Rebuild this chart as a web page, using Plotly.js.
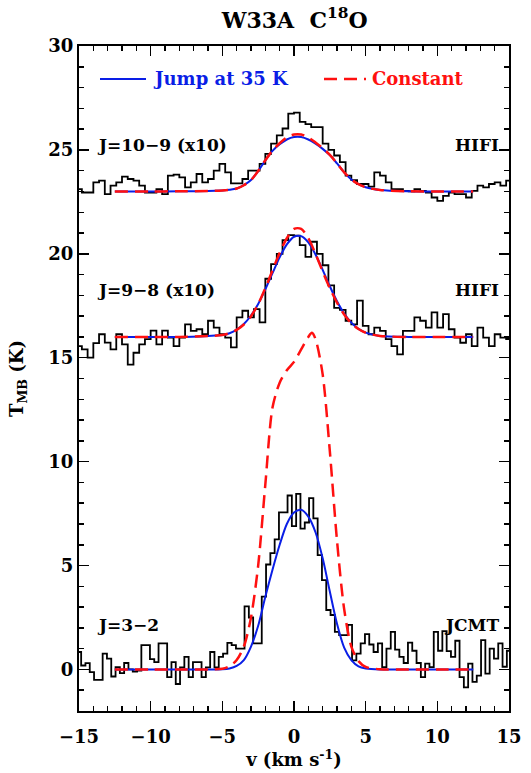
<!DOCTYPE html>
<html>
<head>
<meta charset="utf-8">
<script src="https://cdn.plot.ly/plotly-3.0.1.min.js"></script>
<style>html,body{margin:0;padding:0;background:#fff;}#chart{width:531px;height:773px;}</style>
</head>
<body>
<div id="chart"></div>
<script>
// ---- Observed spectra (histograms) ----
// JCMT C18O J=3-2, channel start and width (km/s)
var jcmtStart = -15, jcmtWidth = 0.3;
var jcmtT = [0.84,0.19,0.3,-0.13,-0.5,-0.5,0.76,0.52,-0.34,0.11,
 -0.18,0.31,0.0,-0.1,-0.05,1.17,1.17,0.5,0.35,1.25,
 1.25,-0.37,0.35,-0.7,0.1,0.6,-0.37,0.35,0.35,-0.37,
 0.1,0.84,0.1,0.6,0.76,1.28,1.17,1.0,1.0,3.03,
 2.5,1.25,1.25,3.5,5.05,5.6,6.26,7.56,7.56,8.37,
 6.9,8.45,6.78,7.07,8.24,7.27,5.5,4.3,2.86,2.62,
 1.81,1.65,1.65,2.14,0.44,0.76,1.25,1.7,1.2,0.84,
 1.25,0.11,1.0,1.81,0.95,0.6,0.31,1.29,0.9,0.31,
 -0.37,0.28,0.11,1.81,0.9,1.84,0.88,0.6,1.38,-0.37,
 -0.86,0.28,-0.6,-0.3,1.41,-0.2,1.0,0.52,1.25,0.13,
 0.9];

// HIFI spectra (already x10), channel start and width (km/s)
var hifiStart = -15, hifiWidth = 0.4;
var hifi98T = [-0.44,-0.6,-1.0,-0.3,0.13,-0.27,-0.6,0.13,-0.36,-1.33,
 -0.76,-0.36,-0.11,0.3,-0.36,0.3,-0.03,-0.44,-0.03,0.6,
 0.29,0.37,0.13,0.78,0.45,0.13,-0.03,-0.5,0.94,1.26,
 0.94,1.34,0.7,2.8,3.5,4.0,4.66,4.9,4.88,4.42,
 3.85,4.58,4.0,3.45,2.48,1.4,1.3,0.78,0.6,1.75,
 0.53,0.13,0.45,0.29,-0.11,-0.44,-0.84,0.29,0.29,0.94,
 0.78,0.45,1.18,0.45,1.1,0.37,-0.03,-0.28,0.13,-0.44,
 0.45,-0.03,-0.44,0.13,-0.03,-0.1];
var hifi109T = [0.11,-0.05,-0.05,0.44,0.52,-0.13,0.28,0.44,0.71,0.6,
 0.52,0.28,-0.05,-0.05,0.11,-0.13,0.76,0.81,0.68,0.2,
 0.44,0.84,0.44,0.6,1.0,1.33,0.92,0.39,0.39,0.6,
 1.0,1.0,1.33,1.81,2.3,2.7,3.03,3.75,3.79,3.35,
 3.24,3.1,3.1,2.3,2.0,1.73,1.41,0.76,0.55,0.36,
 0.36,0.23,0.92,0.76,0.44,0.11,0.11,0.03,0.0,0.11,
 0.03,-0.05,-0.29,-0.45,-0.21,-0.05,-0.13,-0.13,-0.29,0.03,
 0.28,0.2,0.36,0.44,0.28,0.52];

// vertical offsets of the stacked spectra
var offset109 = 23, offset98 = 16, offset32 = 0;

// ---- Model curves ----
var vFit = [-12.5,-10,-8,-6,-5,-4.5,-4,-3.5,-3,-2.5,-2,-1.5,-1,-0.5,0,0.5,1,1.5,2,2.5,3,3.5,4,4.5,5,6,8,10,12.5];
var jump32  = [0,0,0,0,0.01,0.05,0.17,0.45,1.1,2.1,3.5,4.8,6.0,7.0,7.55,7.68,7.35,6.6,5.35,3.75,2.2,1.05,0.45,0.15,0.05,0,0,0,0];
var jump98  = [0,0,0,0.05,0.09,0.18,0.35,0.62,1.03,1.59,2.29,3.07,3.83,4.45,4.82,4.85,4.55,3.97,3.23,2.44,1.72,1.13,0.69,0.39,0.21,0.05,0,0,0];
var const98 = [0,0,0,0.05,0.09,0.18,0.34,0.6,1.0,1.58,2.35,3.2,4.05,4.75,5.2,5.2,4.75,4.0,3.15,2.35,1.65,1.08,0.66,0.38,0.2,0.05,0,0,0];
var jump109  = [0,0,0.01,0.02,0.05,0.08,0.14,0.3,0.55,0.98,1.5,1.95,2.27,2.5,2.62,2.62,2.5,2.3,2.05,1.75,1.35,0.92,0.58,0.35,0.2,0.07,0.01,0,0];
var const109 = [0,0,0.01,0.02,0.05,0.08,0.14,0.3,0.55,0.98,1.5,1.97,2.32,2.6,2.74,2.74,2.6,2.36,2.08,1.76,1.35,0.92,0.58,0.35,0.2,0.07,0.01,0,0];
var vConst32 = [-12.5,-10,-8,-6,-5,-4.5,-4,-3.5,-3,-2.5,-2,-1.5,-1,-0.5,0,0.5,1,1.25,1.5,2,2.5,3,3.5,4,4.5,5,6,8,10,12.5];
var const32  = [0,0,0,0,0.03,0.15,0.45,1.1,2.5,5.0,8.9,12.6,13.8,14.4,14.8,15.4,16.0,16.2,15.9,14.2,10.5,6.2,2.9,1.1,0.4,0.12,0.01,0,0,0];

// ---- labels ----
var titleText = 'W33A  C<sup>18</sup>O';
var xTitle = 'v (km s<sup>-1</sup>)';
var yTitle = 'T<sub>MB</sub> (K)';
var legendNames = ['Jump at 35 K', 'Constant'];
var lineLabels = ['J=10\u22129 (x10)', 'J=9\u22128 (x10)', 'J=3\u22122'];
var instLabels = ['HIFI', 'HIFI', 'JCMT'];

function chanV(start, width, n){ var a=[]; for(var i=0;i<n;i++) a.push(start + width*i); return a; }
function addOff(arr, off){ return arr.map(function(v){ return v + off; }); }

var FONT = 'DejaVu Serif';
var BLUE = '#0a1ee6', RED = '#ff1010';
var DASH = '13px,7px';
var traces = [];
function dataTrace(x, y){ return {x:x, y:y, type:'scatter', mode:'lines', line:{color:'black', width:1.8, shape:'hvh'}, showlegend:false, hoverinfo:'skip'}; }
function fitTrace(x, y, color, dash, w){ return {x:x, y:y, type:'scatter', mode:'lines', line:{color:color, width:w, dash:dash, shape:'spline', smoothing:0.8}, showlegend:false, hoverinfo:'skip'}; }

var vj = chanV(jcmtStart, jcmtWidth, jcmtT.length);
var vh = chanV(hifiStart, hifiWidth, hifi98T.length);
traces.push(dataTrace(vh, addOff(hifi109T, offset109)));
traces.push(dataTrace(vh, addOff(hifi98T, offset98)));
traces.push(dataTrace(vj, addOff(jcmtT, offset32)));
traces.push(fitTrace(vFit, addOff(jump109, offset109), BLUE, 'solid', 2));
traces.push(fitTrace(vFit, addOff(jump98, offset98), BLUE, 'solid', 2));
traces.push(fitTrace(vFit, addOff(jump32, offset32), BLUE, 'solid', 2));
traces.push(fitTrace(vFit, addOff(const109, offset109), RED, DASH, 2.5));
traces.push(fitTrace(vFit, addOff(const98, offset98), RED, DASH, 2.5));
traces.push(fitTrace(vConst32, addOff(const32, offset32), RED, DASH, 2.5));

var L = 79, R = 509, T = 46, B = 711, W = 531, H = 773;
function px2x(p){ return (p - L)/(R - L); }
function py2y(p){ return (B - p)/(B - T); }

var labFont = {family: FONT, size: 17, color: 'black', weight: 'bold'};
var annotations = [];
var yLab = [145, 290, 625];
for (var i=0;i<3;i++){
  annotations.push({xref:'paper', yref:'paper', x:px2x(95), y:py2y(yLab[i]), xanchor:'left', yanchor:'middle', text:lineLabels[i], showarrow:false, font:labFont});
  annotations.push({xref:'paper', yref:'paper', x:px2x(501), y:py2y(yLab[i]), xanchor:'right', yanchor:'middle', text:instLabels[i], showarrow:false, font:labFont});
}
annotations.push({xref:'paper', yref:'paper', x:px2x(151), y:py2y(79), xanchor:'left', yanchor:'middle', text:legendNames[0], showarrow:false, font:{family:FONT, size:18, color:BLUE, weight:'bold'}});
annotations.push({xref:'paper', yref:'paper', x:px2x(370), y:py2y(79), xanchor:'left', yanchor:'middle', text:legendNames[1], showarrow:false, font:{family:FONT, size:18, color:RED, weight:'bold'}});

var shapes = [
  {type:'line', xref:'paper', yref:'paper', x0:px2x(100), x1:px2x(146), y0:py2y(79), y1:py2y(79), line:{color:BLUE, width:2}},
  {type:'line', xref:'paper', yref:'paper', x0:px2x(324), x1:px2x(366), y0:py2y(79), y1:py2y(79), line:{color:RED, width:2.5, dash:DASH}}
];

var tickFont = {family: FONT, size: 18, color: 'black', weight: 'bold'};
var layout = {
  width: W, height: H,
  margin: {l: L, r: W - R, t: T, b: H - B, pad: 0},
  paper_bgcolor: 'white', plot_bgcolor: 'white',
  showlegend: false,
  title: {text: titleText, font: {family: FONT, size: 22, color: 'black', weight: 'bold'}, x: 0.555, xanchor: 'center', y: 1 - 20/H, yanchor: 'middle'},
  xaxis: {range: [-15, 15], dtick: 5, tick0: 0, ticks: 'inside', ticklen: 10, tickwidth: 1.5, tickcolor: 'black',
    showline: true, linewidth: 2, linecolor: 'black', mirror: 'ticks', showgrid: false, zeroline: false,
    tickfont: tickFont, ticklabelstandoff: 8, minor: {dtick: 1, ticks: 'inside', ticklen: 5, tickwidth: 1.5, tickcolor: 'black', showgrid: false},
    title: {text: xTitle, font: {family: FONT, size: 18, color: 'black', weight: 'bold'}, standoff: 8}},
  yaxis: {range: [-2, 30], dtick: 5, tick0: 0, ticks: 'inside', ticklen: 10, tickwidth: 1.5, tickcolor: 'black',
    showline: true, linewidth: 2, linecolor: 'black', mirror: 'ticks', showgrid: false, zeroline: false,
    tickfont: tickFont, minor: {dtick: 1, ticks: 'inside', ticklen: 5, tickwidth: 1.5, tickcolor: 'black', showgrid: false},
    title: {text: yTitle, font: {family: FONT, size: 18, color: 'black', weight: 'bold'}, standoff: 20}},
  annotations: annotations,
  shapes: shapes
};
Plotly.newPlot('chart', traces, layout, {staticPlot: true, displayModeBar: false});
</script>
</body>
</html>
